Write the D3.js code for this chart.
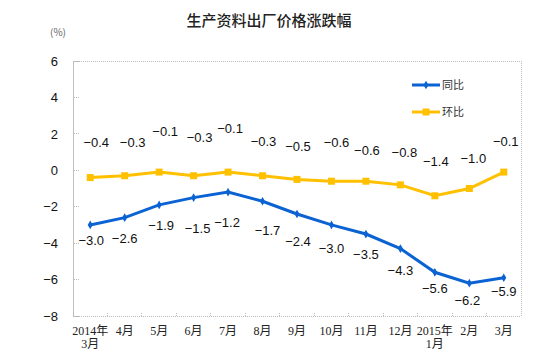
<!DOCTYPE html>
<html><head><meta charset="utf-8">
<script src="https://cdn.jsdelivr.net/npm/d3@7"></script>
<style>body{margin:0;background:#fff}svg{display:block}</style>
</head><body>
<svg id="c" width="546" height="358"></svg>
<script>
const categories = [["2014年","3月"],["4月"],["5月"],["6月"],["7月"],["8月"],["9月"],["10月"],["11月"],["12月"],["2015年","1月"],["2月"],["3月"]];
const yoyValues = [-3.0,-2.6,-1.9,-1.5,-1.2,-1.7,-2.4,-3.0,-3.5,-4.3,-5.6,-6.2,-5.9];
const momValues = [-0.4,-0.3,-0.1,-0.3,-0.1,-0.3,-0.5,-0.6,-0.6,-0.8,-1.4,-1.0,-0.1];
const yTicks = [6,4,2,0,-2,-4,-6,-8];
const seriesNames = ["同比","环比"];
const title = "生产资料出厂价格涨跌幅";
const unit = "(%)";
// label placement offsets (layout, px)
const yoyLabelDx = [1,0,2,4,-1,5,1,0,0,0,0,-2,0];
const yoyLabelDy = [16,21,21,31,30,29,27,24,20,22,16,17,14];
const momLabelDx = [6,8,6,6,2,1,1,5,1,4,1,4,2];
const momLabelDy = [-35,-33,-41,-38,-44,-34,-33,-39,-31,-32,-34,-30,-31];

const svg = d3.select("#c");
const L=73,R=521,T=61,B=316;
const BLUE="#0b63d3", YEL="#ffc000";
const x = d3.scaleBand().domain(d3.range(categories.length)).range([L,R]);
const cx = i => x(i)+x.bandwidth()/2;
const y = d3.scaleLinear().domain([-8,6]).range([B,T]);

svg.append("text").attr("x",269).attr("y",26).attr("text-anchor","middle")
  .attr("font-family","'Noto Sans CJK SC'").attr("font-size",15).attr("font-weight",500).attr("fill","#222").text(title);
svg.append("text").attr("x",58).attr("y",36).attr("text-anchor","middle")
  .attr("font-family","'Noto Sans CJK SC'").attr("font-size",10).attr("fill","#666").text(unit);

// frame
const g = svg.append("g");
g.append("path").attr("d",`M${L},${T}H${R}V${B}H${L}`).attr("fill","none")
  .attr("stroke","#bbb").attr("stroke-dasharray","1,1").attr("shape-rendering","crispEdges");
// y axis
const ya = d3.axisLeft(y).tickValues(yTicks).tickSize(0).tickPadding(15).tickFormat(d3.format("d"));
const yg = svg.append("g").attr("transform",`translate(${L},0)`).call(ya);
yg.select(".domain").attr("stroke","#c0c0c0");
yg.selectAll("text").attr("font-family","'Liberation Sans',Arial").attr("font-size",13).attr("fill","#111");
yTicks.forEach(t=>{
  svg.append("line").attr("x1",L+1).attr("x2",L+6).attr("y1",y(t)).attr("y2",y(t))
   .attr("stroke","#bbb").attr("stroke-dasharray","1,1").attr("shape-rendering","crispEdges");
});
// x ticks at band boundaries
d3.range(categories.length+1).forEach(i=>{
  const xx = L + i*x.step();
  svg.append("line").attr("x1",xx).attr("x2",xx).attr("y1",B-3).attr("y2",B)
   .attr("stroke","#bbb").attr("stroke-dasharray","1,1").attr("shape-rendering","crispEdges");
});
// x labels
categories.forEach((c,i)=>{
  c.forEach((s,k)=>{
    svg.append("text").attr("x",cx(i)).attr("y",335+k*13).attr("text-anchor","middle")
      .attr("font-family","'Liberation Serif','Noto Sans CJK SC'").attr("font-size",12).attr("fill","#222").text(s);
  });
});

const line = d3.line().x((d,i)=>cx(i)).y(d=>y(d));
// yellow
svg.append("path").datum(momValues).attr("d",line).attr("fill","none").attr("stroke",YEL).attr("stroke-width",3);
svg.selectAll(".ms").data(momValues).enter().append("rect")
  .attr("x",(d,i)=>cx(i)-3.5).attr("y",d=>y(d)-3.5).attr("width",7).attr("height",7).attr("fill",YEL);
// blue
svg.append("path").datum(yoyValues).attr("d",line).attr("fill","none").attr("stroke",BLUE).attr("stroke-width",3);
svg.selectAll(".bs").data(yoyValues).enter().append("path")
  .attr("d",d3.symbol(d3.symbolDiamond,22)).attr("transform",(d,i)=>`translate(${cx(i)},${y(d)})`).attr("fill",BLUE);

const fmt = d3.format(".1f");
momValues.forEach((v,i)=>{
  svg.append("text").attr("x",cx(i)+momLabelDx[i]).attr("y",y(v)+momLabelDy[i]).attr("dy","0.35em")
   .attr("text-anchor","middle").attr("font-family","'Liberation Sans',Arial").attr("font-size",13).attr("fill","#111").text(fmt(v));
});
yoyValues.forEach((v,i)=>{
  svg.append("text").attr("x",cx(i)+yoyLabelDx[i]).attr("y",y(v)+yoyLabelDy[i]).attr("dy","0.35em")
   .attr("text-anchor","middle").attr("font-family","'Liberation Sans',Arial").attr("font-size",13).attr("fill","#111").text(fmt(v));
});

// legend
const lg = [[BLUE,85,"d"],[YEL,112,"s"]];
lg.forEach(([col,ly,m],k)=>{
  svg.append("line").attr("x1",412).attr("x2",440).attr("y1",ly).attr("y2",ly).attr("stroke",col).attr("stroke-width",3);
  if(m==="s") svg.append("rect").attr("x",422.5).attr("y",ly-3.5).attr("width",7).attr("height",7).attr("fill",col);
  else svg.append("path").attr("d",d3.symbol(d3.symbolDiamond,22)).attr("transform",`translate(426,${ly})`).attr("fill",col);
  svg.append("text").attr("x",442).attr("y",ly).attr("dy","0.35em").attr("font-family","'Noto Sans CJK SC'")
    .attr("font-size",11).attr("fill","#333").text(seriesNames[k]);
});
</script>
</body></html>
